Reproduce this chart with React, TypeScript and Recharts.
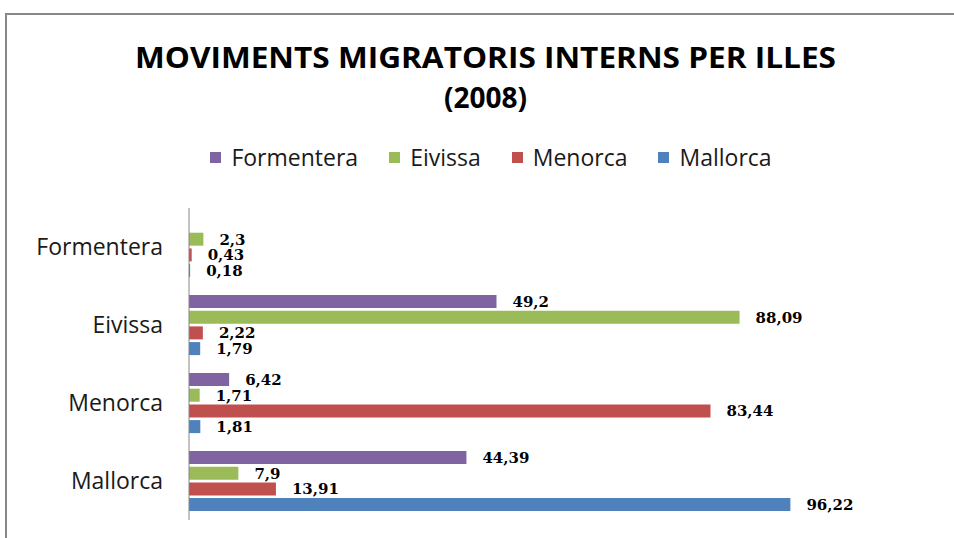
import React from 'react';
import { BarChart, Bar, XAxis, YAxis, LabelList, Legend } from 'recharts';

const categories = ['Formentera', 'Eivissa', 'Menorca', 'Mallorca'];
const seriesNames = ['Formentera', 'Eivissa', 'Menorca', 'Mallorca'];
const formenteraValues: (number | null)[] = [null, 49.2, 6.42, 44.39];
const eivissaValues: (number | null)[] = [2.3, 88.09, 1.71, 7.9];
const menorcaValues: (number | null)[] = [0.43, 2.22, 83.44, 13.91];
const mallorcaValues: (number | null)[] = [0.18, 1.79, 1.81, 96.22];
const colors = ['#8064A2', '#9BBB59', '#C0504D', '#4F81BD'];
const titleLines = ['MOVIMENTS MIGRATORIS INTERNS PER ILLES', '(2008)'];

const allValues = [formenteraValues, eivissaValues, menorcaValues, mallorcaValues];
const data = categories.map((c, i) => {
  const row: Record<string, any> = { name: c };
  seriesNames.forEach((s, j) => {
    row[s] = allValues[j][i];
  });
  return row;
});

const fmt = (v: any) => (v === null || v === undefined ? '' : String(v).replace('.', ','));

const LegendContent = () => (
  <div
    style={{
      display: 'flex',
      justifyContent: 'center',
      alignItems: 'center',
      fontFamily: '"Open Sans", sans-serif',
      fontSize: 23,
      color: '#1a1a1a',
      height: 28,
    }}
  >
    {seriesNames.map((s, i) => (
      <div key={s} style={{ display: 'flex', alignItems: 'center', marginRight: i < 3 ? 31 : 0 }}>
        <div style={{ width: 11, height: 11, background: colors[i], marginRight: 10 }} />
        <span>{s}</span>
      </div>
    ))}
  </div>
);

export default function App() {
  return (
    <div style={{ position: 'absolute', left: 0, top: 0, width: 954, height: 538, background: '#fff', overflow: 'hidden' }}>
      <div
        style={{
          position: 'absolute',
          left: 5,
          top: 13,
          width: 1000,
          height: 600,
          borderLeft: '2px solid #888',
          borderTop: '2px solid #888',
        }}
      />
      <svg style={{ position: 'absolute', left: 0, top: 0 }} width={954} height={120}>
        <text
          x={485.5}
          y={68}
          textAnchor="middle"
          fontFamily='"Open Sans", sans-serif'
          fontWeight="bold"
          fontSize={28}
          fill="#000"
          textLength={701}
          lengthAdjust="spacingAndGlyphs"
        >
          {titleLines[0]}
        </text>
        <text
          x={485.5}
          y={108}
          textAnchor="middle"
          fontFamily='"Open Sans", sans-serif'
          fontWeight="bold"
          fontSize={28}
          fill="#000"
        >
          {titleLines[1]}
        </text>
      </svg>
      <div style={{ position: 'absolute', left: 0, top: 0 }}>
        <BarChart
          width={954}
          height={538}
          data={data}
          layout="vertical"
          margin={{ top: 180, right: 140, bottom: 18, left: 9 }}
          barSize={13}
          barGap={2.7}
        >
          <XAxis type="number" domain={[0, 100]} hide />
          <YAxis
            type="category"
            dataKey="name"
            width={180}
            axisLine={{ stroke: '#868686', strokeWidth: 1 }}
            tickLine={false}
            tickSize={0}
            tickMargin={26}
            tick={{ fontFamily: '"Open Sans", sans-serif', fontSize: 23, fill: '#1a1a1a' }}
            interval={0}
          />
          <Legend
            verticalAlign="top"
            content={<LegendContent />}
            wrapperStyle={{ position: 'absolute', top: 143, left: 14, width: 954 }}
          />
          {seriesNames.map((s, i) => (
            <Bar key={s} dataKey={s} fill={colors[i]} isAnimationActive={false}>
              <LabelList
                dataKey={s}
                position="right"
                offset={16}
                formatter={fmt}
                style={{ fontFamily: '"DejaVu Serif", serif', fontSize: 15, fontWeight: 'bold', fill: '#000' }}
              />
            </Bar>
          ))}
        </BarChart>
      </div>
    </div>
  );
}
